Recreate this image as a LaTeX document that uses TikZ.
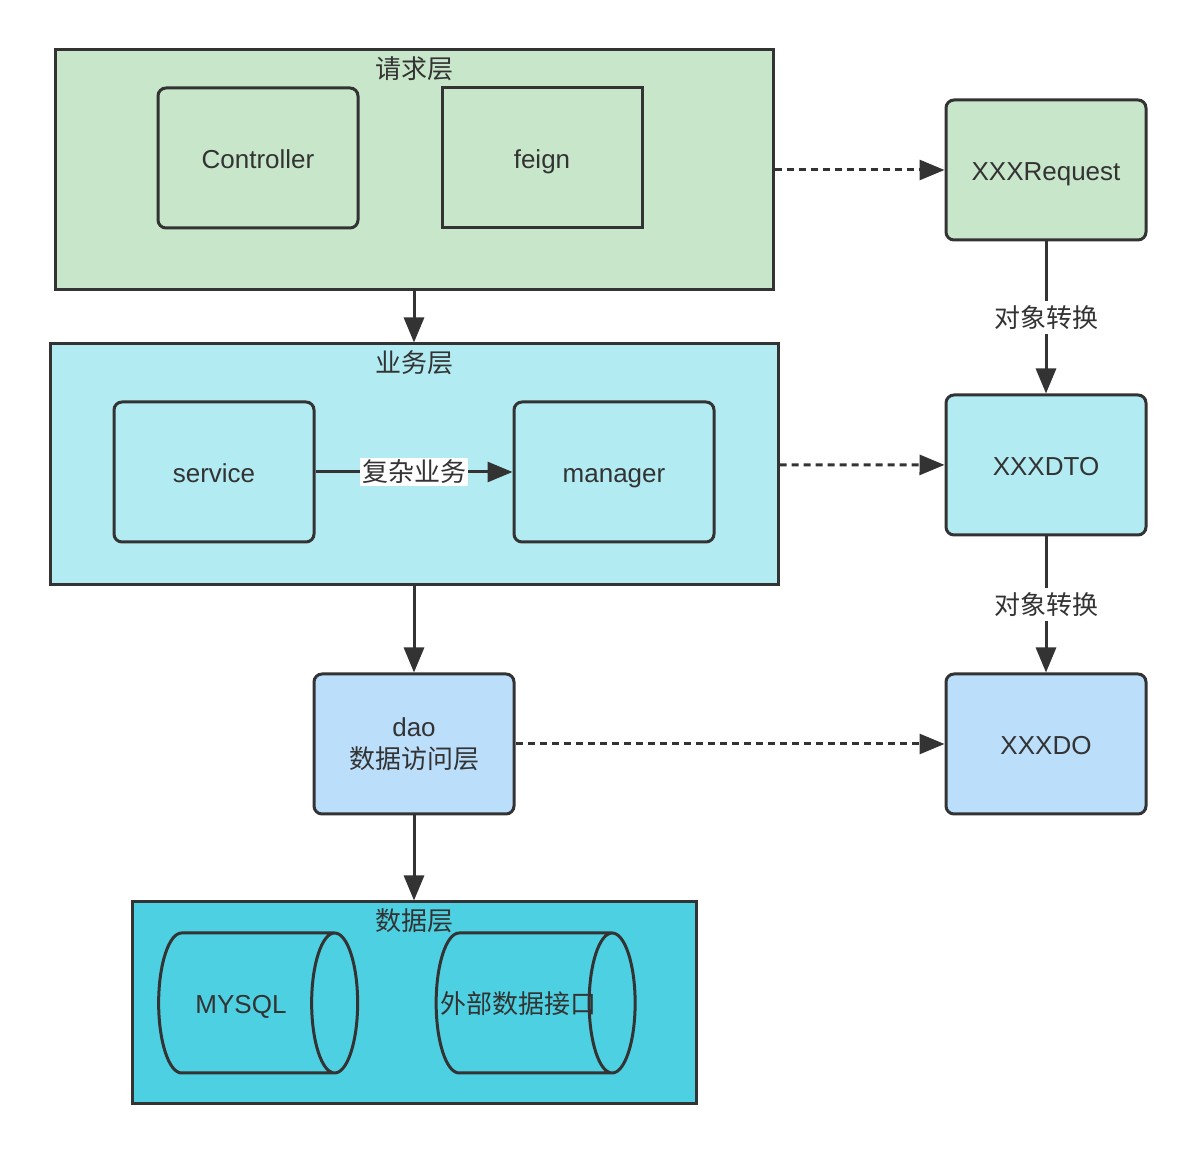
\documentclass[tikz,border=0pt]{standalone}
\usepackage{fontspec}
\setmainfont{Liberation Sans}
\newfontfamily\cjk{Noto Sans CJK SC}
\usetikzlibrary{arrows.meta,shapes.geometric}
\definecolor{linegray}{HTML}{333333}
\definecolor{reqgreen}{HTML}{C8E6C9}
\definecolor{bizcyan}{HTML}{B2EBF2}
\definecolor{daoblue}{HTML}{BBDEFB}
\definecolor{datacyan}{HTML}{4DD0E1}

\begin{document}
\begin{tikzpicture}[
    x=0.5pt, y=-0.5pt,
    every node/.style={text=linegray, font=\fontsize{13pt}{16pt}\selectfont},
    layer/.style={draw=linegray, line width=1.5pt, rectangle},
    panel/.style={draw=linegray, line width=1.5pt, rounded corners=4pt,
        minimum width=100pt, minimum height=70pt, align=center},
    cell/.style={panel, text height=1.15em, text depth=0.1em},
    flow/.style={draw=linegray, line width=1.5pt, -{Triangle[length=12.5pt,width=10pt]}},
    ref/.style={flow, dash pattern=on 3.5pt off 2.5pt},
    db/.style={cylinder, draw=linegray, line width=1.5pt, fill=datacyan,
        aspect=1.2, minimum width=70pt, minimum height=99.5pt,
        text height=1.15em, text depth=0.1em}
]
\useasboundingbox (0,0) rectangle (1196,1154);

% layers
\node[layer, fill=reqgreen, minimum width=359pt, minimum height=120pt,
    label={[anchor=north, inner sep=4pt]north:{\cjk 请求层}}] (req) at (414,170) {};
\node[layer, fill=bizcyan, minimum width=364pt, minimum height=120.5pt,
    label={[anchor=north, inner sep=4pt]north:{\cjk 业务层}}] (biz) at (414,464.5) {};
\node[layer, fill=datacyan, minimum width=282pt, minimum height=101pt,
    label={[anchor=north, inner sep=4pt]north:{\cjk 数据层}}] (data) at (414,1003) {};

% components
\node[cell] (ctrl) at (258,158) {Controller};
\node[cell, rounded corners=0pt] (feign) at (542,158) {feign};
\node[cell] (service) at (214,472) {service};
\node[cell] (manager) at (614,472) {manager};
\node[panel, fill=daoblue] (dao) at (414,744) {dao\\{\cjk 数据访问层}};
\node[db] (mysql) at (241,1003) {MYSQL};
\node[db, inner xsep=-7.5pt] (ext) at (518.5,1003) {\cjk 外部数据接口};

% objects
\node[cell, fill=reqgreen] (reqobj) at (1046,170) {XXXRequest};
\node[cell, fill=bizcyan] (dto) at (1046,465) {XXXDTO};
\node[cell, fill=daoblue] (do) at (1046,744) {XXXDO};

% connectors
\draw[flow] (req) -- (biz);
\draw[flow] (biz) -- (dao);
\draw[flow] (dao) -- (data);
\draw[flow] (service) -- node[fill=white, inner sep=1pt] {\cjk 复杂业务} (manager);
\draw[ref] (req) -- (reqobj);
\draw[ref] (biz) -- (dto);
\draw[ref] (dao) -- (do);
\draw[flow] (reqobj) -- node[fill=white, inner sep=2pt] {\cjk 对象转换} (dto);
\draw[flow] (dto) -- node[fill=white, inner sep=2pt] {\cjk 对象转换} (do);
\end{tikzpicture}
\end{document}
